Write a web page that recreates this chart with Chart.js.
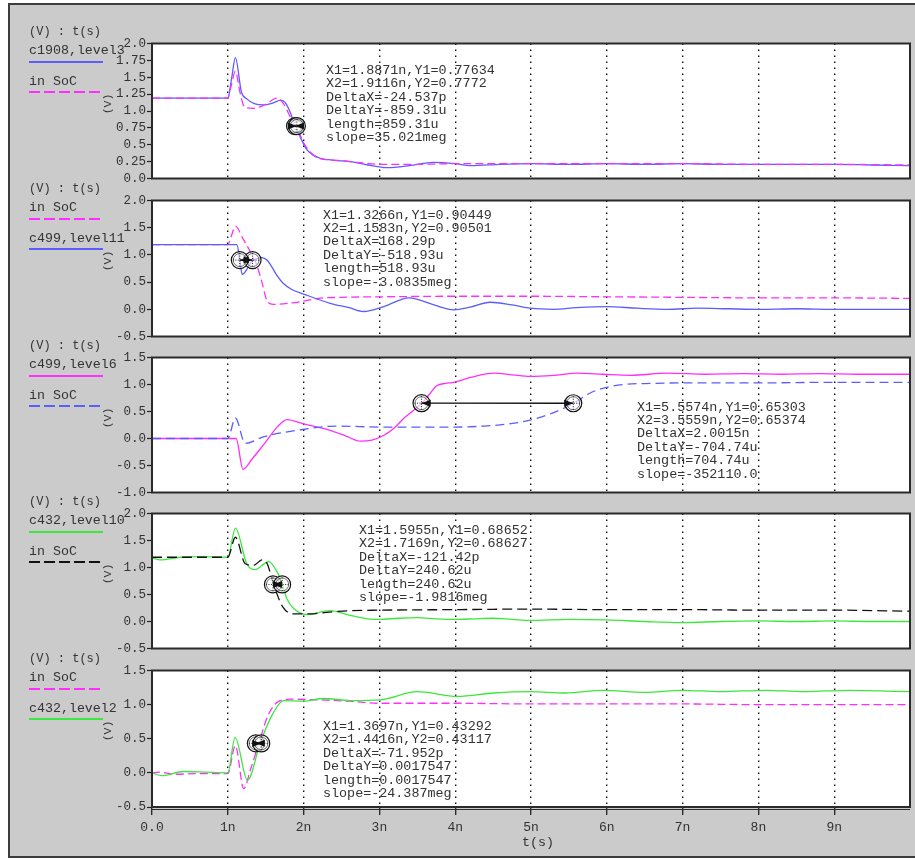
<!DOCTYPE html>
<html>
<head>
<meta charset="utf-8">
<script src="https://cdn.jsdelivr.net/npm/chart.js@4/dist/chart.umd.min.js"></script>
<style>
  html, body { margin: 0; padding: 0; }
  body { width: 915px; height: 860px; overflow: hidden; position: relative; background: #fff;
         font-family: "Liberation Mono", "DejaVu Sans Mono", monospace; color: #333; }
  #panelBg { position: absolute; left: 8px; top: 3px; width: 930px; height: 855px;
             background: #cbcbcb; border: 2px solid #3c3c3c; box-sizing: border-box; }
  canvas { position: absolute; }
  .lbl { position: absolute; white-space: pre; font-size: 13.3px; line-height: 16px; }
  .hdr { position: absolute; white-space: pre; font-size: 12px; line-height: 16px; }
  .unit { position: absolute; white-space: pre; font-size: 11.5px; line-height: 14px;
          transform: translate(-50%, -50%) rotate(-90deg); }
  .note { position: absolute; white-space: pre; font-size: 13.4px; line-height: 13.4px; }
  .swatch { position: absolute; left: 29px; width: 74px; }
</style>
</head>
<body>
<div id="panelBg"></div>
<script>
// ---- waveforms: time in ns, voltage in V ----
// panel 1
const p1BlueT = [0, 0.5, 1.0, 1.05, 1.10, 1.18, 1.25, 1.35, 1.47, 1.60, 1.70, 1.76, 1.82, 1.89, 1.97, 2.04, 2.12, 2.22, 2.40, 2.62, 2.85, 3.10, 3.40, 3.71, 4.00, 4.20, 4.60, 5.0, 5.5, 6.0, 6.5, 7.0, 7.5, 8.0, 8.5, 9.0, 9.5, 10.0];
const p1BlueV = [1.19, 1.19, 1.19, 1.48, 1.79, 1.28, 1.18, 1.11, 1.09, 1.12, 1.16, 1.12, 0.99, 0.78, 0.58, 0.43, 0.35, 0.30, 0.27, 0.25, 0.20, 0.16, 0.19, 0.24, 0.22, 0.19, 0.21, 0.22, 0.21, 0.22, 0.21, 0.22, 0.21, 0.21, 0.21, 0.21, 0.20, 0.19];
const p1SocT = [0, 0.5, 1.0, 1.05, 1.10, 1.16, 1.22, 1.34, 1.50, 1.65, 1.74, 1.82, 1.91, 2.00, 2.09, 2.18, 2.30, 2.44, 2.70, 3.05, 3.5, 4.0, 5.0, 6.0, 7.0, 8.0, 9.0, 10.0];
const p1SocV = [1.19, 1.19, 1.19, 1.40, 1.59, 1.28, 1.06, 1.04, 1.10, 1.19, 1.10, 0.92, 0.76, 0.53, 0.39, 0.31, 0.28, 0.27, 0.24, 0.21, 0.21, 0.22, 0.22, 0.22, 0.22, 0.21, 0.21, 0.20];
const p1CursorX = [1.8871, 1.9116];
const p1CursorY = [0.77634, 0.7772];

// panel 2
const p2SocT = [0, 0.5, 1.0, 1.05, 1.10, 1.20, 1.30, 1.38, 1.45, 1.52, 1.60, 1.80, 2.00, 2.19, 2.50, 3.05, 4.0, 5.0, 6.0, 7.0, 8.0, 9.0, 10.0];
const p2SocV = [1.19, 1.19, 1.19, 1.36, 1.53, 1.30, 1.05, 0.82, 0.50, 0.15, 0.09, 0.11, 0.15, 0.20, 0.22, 0.23, 0.24, 0.24, 0.23, 0.22, 0.21, 0.21, 0.20];
const p2BlueT = [0, 0.5, 1.0, 1.12, 1.158, 1.19, 1.24, 1.30, 1.36, 1.45, 1.52, 1.58, 1.65, 1.73, 1.85, 2.00, 2.35, 2.60, 2.79, 3.06, 3.39, 3.72, 3.98, 4.20, 4.46, 4.75, 4.99, 5.3, 5.6, 6.0, 6.4, 6.8, 7.2, 7.6, 8.0, 8.5, 9.0, 9.5, 10.0];
const p2BlueV = [1.19, 1.19, 1.19, 1.19, 0.905, 0.64, 0.71, 0.85, 0.92, 0.95, 0.90, 0.78, 0.62, 0.48, 0.36, 0.28, 0.11, 0.03, -0.04, 0.05, 0.21, 0.08, -0.01, 0.04, 0.13, 0.08, 0.02, 0.0, 0.03, 0.05, 0.02, 0.0, 0.02, 0.01, 0.0, 0.01, 0.0, 0.0, 0.0];
const p2CursorX = [1.3266, 1.1583];
const p2CursorY = [0.90449, 0.90501];

// panel 3
const p3MagT = [0, 0.5, 1.0, 1.11, 1.20, 1.32, 1.43, 1.54, 1.65, 1.78, 2.00, 2.35, 2.55, 2.75, 2.90, 3.06, 3.20, 3.32, 3.45, 3.56, 3.66, 3.76, 3.87, 3.98, 4.20, 4.51, 4.75, 4.99, 5.30, 5.61, 5.95, 6.31, 6.8, 7.3, 7.8, 8.3, 8.8, 9.3, 10.0];
const p3MagV = [0, 0, 0, 0, -0.57, -0.38, -0.19, 0.01, 0.21, 0.35, 0.27, 0.15, 0.05, -0.05, -0.03, 0.06, 0.20, 0.37, 0.52, 0.65, 0.82, 0.98, 1.02, 1.04, 1.13, 1.21, 1.18, 1.15, 1.17, 1.21, 1.19, 1.17, 1.21, 1.19, 1.20, 1.19, 1.20, 1.19, 1.19];
const p3SocT = [0, 0.5, 1.0, 1.10, 1.23, 1.47, 1.91, 2.44, 3.06, 3.5, 3.94, 4.38, 4.70, 4.99, 5.30, 5.56, 5.75, 5.92, 6.23, 6.6, 7.0, 8.0, 9.0, 10.0];
const p3SocV = [0, 0, 0, 0.38, -0.09, 0.03, 0.15, 0.23, 0.21, 0.21, 0.21, 0.23, 0.27, 0.34, 0.48, 0.65, 0.82, 0.92, 1.00, 1.02, 1.03, 1.03, 1.04, 1.04];
const p3CursorX = [5.5574, 3.5559];
const p3CursorY = [0.65303, 0.65374];

// panel 4
const p4GreenT = [0, 0.11, 0.37, 0.63, 1.0, 1.10, 1.25, 1.36, 1.54, 1.65, 1.72, 1.78, 1.87, 2.04, 2.35, 2.6, 2.85, 3.0, 3.25, 3.5, 3.75, 4.0, 4.25, 4.5, 4.75, 5.0, 5.5, 6.0, 6.5, 7.0, 7.5, 8.0, 8.5, 9.0, 9.5, 10.0];
const p4GreenV = [1.18, 1.14, 1.19, 1.20, 1.19, 1.73, 1.07, 0.96, 1.11, 0.92, 0.69, 0.42, 0.24, 0.13, 0.20, 0.12, 0.05, 0.04, 0.06, 0.07, 0.05, 0.04, 0.05, 0.06, 0.04, 0.02, 0.04, 0.03, 0.0, -0.02, 0.0, 0.01, 0.0, 0.01, 0.0, 0.0];
const p4SocT = [0, 0.5, 1.0, 1.10, 1.23, 1.34, 1.45, 1.52, 1.60, 1.73, 1.87, 2.09, 2.30, 2.60, 3.0, 4.0, 5.0, 6.0, 7.0, 8.0, 9.0, 10.0];
const p4SocV = [1.19, 1.19, 1.19, 1.56, 1.07, 1.04, 1.14, 1.07, 0.70, 0.26, 0.14, 0.14, 0.17, 0.20, 0.21, 0.22, 0.23, 0.22, 0.22, 0.21, 0.21, 0.19];
const p4CursorX = [1.5955, 1.7169];
const p4CursorY = [0.68652, 0.68627];

// panel 5
const p5SocT = [0, 0.1, 0.3, 0.6, 1.0, 1.10, 1.21, 1.30, 1.40, 1.53, 1.66, 1.82, 2.2, 2.6, 3.01, 4.0, 5.0, 6.0, 7.0, 8.0, 9.0, 10.0];
const p5SocV = [0.0, 0.01, -0.02, -0.01, -0.01, 0.40, -0.23, 0.05, 0.40, 0.84, 1.04, 1.08, 1.07, 1.05, 1.02, 1.02, 1.01, 1.01, 1.01, 1.00, 1.00, 1.00];
const p5GreenT = [0, 0.13, 0.41, 0.7, 1.0, 1.096, 1.26, 1.43, 1.60, 1.735, 2.0, 2.26, 2.62, 3.01, 3.50, 4.03, 4.51, 4.99, 5.45, 5.95, 6.5, 7.0, 7.5, 8.1, 8.6, 9.2, 9.6, 10.0];
const p5GreenV = [0.0, -0.04, 0.02, 0.01, 0.0, 0.52, -0.11, 0.45, 0.88, 1.06, 1.05, 1.09, 1.06, 1.07, 1.19, 1.12, 1.17, 1.19, 1.17, 1.21, 1.18, 1.21, 1.19, 1.21, 1.19, 1.21, 1.20, 1.19];
const p5CursorX = [1.3697, 1.4416];
const p5CursorY = [0.43292, 0.43117];

// axis ranges
const yRanges = [[0, 2, 0.25], [-0.5, 2, 0.5], [-1, 1.5, 0.5], [-0.5, 2, 0.5], [-0.5, 1.5, 0.5]];
const timeTicks = [0, 1, 2, 3, 4, 5, 6, 7, 8, 9];

// cursor readouts
const notes = [
  ["X1=1.8871n,Y1=0.77634", "X2=1.9116n,Y2=0.7772", "DeltaX=-24.537p", "DeltaY=-859.31u", "length=859.31u", "slope=35.021meg"],
  ["X1=1.3266n,Y1=0.90449", "X2=1.1583n,Y2=0.90501", "DeltaX=168.29p", "DeltaY=-518.93u", "length=518.93u", "slope=-3.0835meg"],
  ["X1=5.5574n,Y1=0.65303", "X2=3.5559n,Y2=0.65374", "DeltaX=2.0015n", "DeltaY=-704.74u", "length=704.74u", "slope=-352110.0"],
  ["X1=1.5955n,Y1=0.68652", "X2=1.7169n,Y2=0.68627", "DeltaX=-121.42p", "DeltaY=240.62u", "length=240.62u", "slope=-1.9816meg"],
  ["X1=1.3697n,Y1=0.43292", "X2=1.4416n,Y2=0.43117", "DeltaX=-71.952p", "DeltaY=0.0017547", "length=0.0017547", "slope=-24.387meg"]
];

// ---- styling ----
const BLUE = '#5c5cff', MAG = '#ff2eff', GREEN = '#3be83b', BLACK = '#111111';
const solid = c => ({ color: c, dash: [] });
const dashed = (c, d) => ({ color: c, dash: d });

const pts = (t, v) => t.map((x, i) => ({ x, y: v[i] }));

const panels = [
  { top: 43, bottom: 179, note: [326, 64],
    series: [
      { name: 'c1908,level3', t: p1BlueT, v: p1BlueV, st: solid(BLUE) },
      { name: 'in SoC', t: p1SocT, v: p1SocV, st: dashed(MAG, [8, 4]) } ],
    cx: p1CursorX, cy: p1CursorY },
  { top: 200, bottom: 337, note: [323, 208.5],
    series: [
      { name: 'in SoC', t: p2SocT, v: p2SocV, st: dashed(MAG, [8, 4]) },
      { name: 'c499,level11', t: p2BlueT, v: p2BlueV, st: solid(BLUE) } ],
    cx: p2CursorX, cy: p2CursorY },
  { top: 357, bottom: 493, note: [637, 400.5],
    series: [
      { name: 'c499,level6', t: p3MagT, v: p3MagV, st: solid(MAG) },
      { name: 'in SoC', t: p3SocT, v: p3SocV, st: dashed(BLUE, [9, 5]) } ],
    cx: p3CursorX, cy: p3CursorY },
  { top: 513, bottom: 649, note: [359, 524],
    series: [
      { name: 'c432,level10', t: p4GreenT, v: p4GreenV, st: solid(GREEN) },
      { name: 'in SoC', t: p4SocT, v: p4SocV, st: dashed(BLACK, [10, 5]) } ],
    cx: p4CursorX, cy: p4CursorY },
  { top: 670, bottom: 807, note: [323, 720],
    series: [
      { name: 'in SoC', t: p5SocT, v: p5SocV, st: dashed(MAG, [8, 4]) },
      { name: 'c432,level2', t: p5GreenT, v: p5GreenV, st: solid(GREEN) } ],
    cx: p5CursorX, cy: p5CursorY }
];

// ---- drawing helpers ----
function arrowHead(ctx, tipX, tipY, dir) {
  ctx.beginPath();
  ctx.moveTo(tipX, tipY);
  ctx.lineTo(tipX + dir * 9, tipY - 3.5);
  ctx.lineTo(tipX + dir * 9, tipY + 3.5);
  ctx.closePath();
  ctx.fill();
}

const scopePlugin = {
  id: 'scope',
  beforeDraw(chart) {
    const { ctx, chartArea: a } = chart;
    ctx.save();
    ctx.fillStyle = '#ffffff';
    ctx.fillRect(a.left, a.top, a.right - a.left, a.bottom - a.top);
    ctx.restore();
  },
  afterDatasetsDraw(chart, args, opts) {
    const { ctx } = chart;
    const xs = chart.scales.x, ys = chart.scales.y;
    const p = opts.cx.map((x, i) => [xs.getPixelForValue(x), ys.getPixelForValue(opts.cy[i])]);
    ctx.save();
    // markers
    p.forEach(([px, py]) => {
      ctx.fillStyle = 'rgba(255,255,255,0.6)';
      ctx.beginPath(); ctx.arc(px, py, 8.5, 0, Math.PI * 2); ctx.fill();
      ctx.strokeStyle = '#111'; ctx.lineWidth = 1.2; ctx.setLineDash([]);
      ctx.beginPath(); ctx.arc(px, py, 8.5, 0, Math.PI * 2); ctx.stroke();
      ctx.beginPath(); ctx.arc(px, py, 6.5, 0, Math.PI * 2); ctx.lineWidth = 0.6; ctx.stroke();
      ctx.setLineDash([1, 1.5]); ctx.lineWidth = 1;
      ctx.beginPath();
      ctx.moveTo(px - 7, py); ctx.lineTo(px + 7, py);
      ctx.moveTo(px, py - 7); ctx.lineTo(px, py + 7);
      ctx.stroke();
    });
    // connecting arrow
    const [l, r] = p[0][0] <= p[1][0] ? [p[0], p[1]] : [p[1], p[0]];
    ctx.setLineDash([]);
    ctx.strokeStyle = '#111'; ctx.fillStyle = '#111'; ctx.lineWidth = 1.3;
    ctx.beginPath(); ctx.moveTo(l[0], l[1]); ctx.lineTo(r[0], r[1]); ctx.stroke();
    arrowHead(ctx, l[0], l[1], 1);
    arrowHead(ctx, r[0], r[1], -1);
    ctx.restore();
  },
  afterDraw(chart, args, opts) {
    const { ctx, chartArea: a } = chart;
    ctx.save();
    ctx.strokeStyle = '#2a2a2a';
    ctx.lineWidth = 2;
    ctx.setLineDash([]);
    ctx.strokeRect(a.left, a.top, a.right - a.left, a.bottom - a.top);
    if (opts.bottomAxis) {
      ctx.lineWidth = 1.2;
      ctx.beginPath();
      ctx.moveTo(a.left, a.bottom + 2.5); ctx.lineTo(a.right, a.bottom + 2.5);
      ctx.stroke();
    }
    ctx.restore();
  }
};

const fmtY = v => (Math.abs(v * 2 - Math.round(v * 2)) < 1e-9 ? v.toFixed(1) : v.toFixed(2));
const fmtX = v => (v === 0 ? '0.0' : v + 'n');

function addDiv(cls, text, left, top, extra) {
  const d = document.createElement('div');
  d.className = cls;
  d.textContent = text;
  d.style.left = left + 'px';
  d.style.top = top + 'px';
  if (extra) Object.assign(d.style, extra);
  document.body.appendChild(d);
  return d;
}

panels.forEach((pn, idx) => {
  const isBottom = idx === panels.length - 1;
  const [ymin, ymax, ystep] = yRanges[idx];
  const padTop = 8;
  const axisH = isBottom ? 34 : 0;
  const padBottom = isBottom ? 0 : 8;
  const canvasTop = pn.top - padTop;
  const h = padTop + (pn.bottom - pn.top) + axisH + padBottom;

  const cv = document.createElement('canvas');
  cv.width = 822; cv.height = h;
  cv.style.left = '90px'; cv.style.top = canvasTop + 'px';
  cv.style.width = '822px'; cv.style.height = h + 'px';
  document.body.appendChild(cv);

  new Chart(cv, {
    type: 'line',
    data: {
      datasets: pn.series.map(s => ({
        label: s.name,
        data: pts(s.t, s.v),
        borderColor: s.st.color,
        borderDash: s.st.dash,
        borderWidth: 1.3,
        pointRadius: 0,
        fill: false,
        cubicInterpolationMode: 'monotone'
      })).reverse()
    },
    options: {
      responsive: false,
      animation: false,
      events: [],
      layout: { padding: { top: padTop, bottom: padBottom, left: 0, right: 2 } },
      plugins: {
        legend: { display: false },
        tooltip: { enabled: false },
        scope: { cx: pn.cx, cy: pn.cy, bottomAxis: isBottom }
      },
      scales: {
        x: {
          type: 'linear', min: 0, max: 10,
          afterBuildTicks: s => { s.ticks = timeTicks.map(v => ({ value: v })); },
          afterFit: s => { s.height = axisH; },
          ticks: {
            display: isBottom, autoSkip: false, maxRotation: 0, minRotation: 0, padding: 5,
            color: '#333', font: { family: 'Liberation Mono', size: 13 },
            callback: fmtX
          },
          grid: {
            color: '#111', lineWidth: 1.4, drawTicks: isBottom, tickLength: 8,
            tickColor: '#222', tickWidth: 1.3, tickBorderDash: []
          },
          border: { display: false, dash: [1.5, 4.5] }
        },
        y: {
          min: ymin, max: ymax,
          afterFit: s => { s.width = 62; },
          ticks: {
            stepSize: ystep, autoSkip: false, padding: 1,
            color: '#333', font: { family: 'Liberation Mono', size: 12.5 },
            callback: fmtY
          },
          grid: { drawOnChartArea: false, drawTicks: true, tickLength: 5, tickColor: '#222', tickWidth: 1.2 },
          border: { display: false }
        }
      }
    },
    plugins: [scopePlugin]
  });

  // legend block
  const T = pn.top;
  addDiv('hdr', '(V) : t(s)', 29, T - 19.5);
  pn.series.forEach((s, k) => {
    const cy = T + 8 + k * 30.5;
    addDiv('lbl', s.name, 29, cy - 8);
    const ly = T + 19 + k * 30;
    const sw = document.createElement('div');
    sw.className = 'swatch';
    sw.style.top = (ly - 1) + 'px';
    if (s.st.dash.length) {
      sw.style.height = '2px';
      sw.style.background = `repeating-linear-gradient(90deg, ${s.st.color} 0 11px, transparent 11px 15px)`;
    } else {
      sw.style.height = '1.5px';
      sw.style.background = s.st.color;
    }
    document.body.appendChild(sw);
  });
  addDiv('unit', '(V)', 108, T + 61);

  // cursor readout
  addDiv('note', notes[idx].join('\n'), pn.note[0], pn.note[1]);
});

addDiv('lbl', 't(s)', 522, 835);
</script>
</body>
</html>
